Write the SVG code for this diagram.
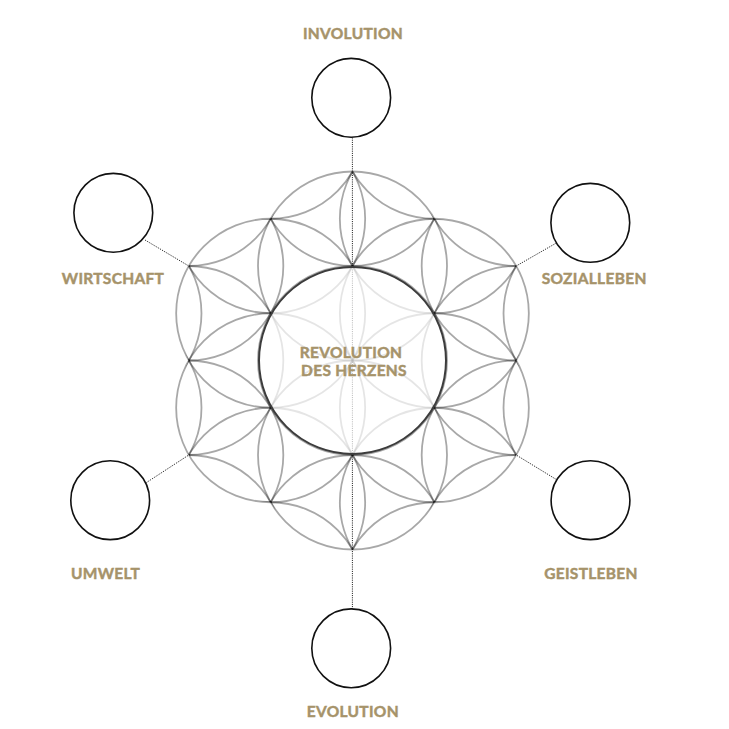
<svg xmlns="http://www.w3.org/2000/svg" width="729" height="729" viewBox="0 0 729 729">
  <defs>
    <style>
      .lat { fill: none; stroke: #000; stroke-opacity: 0.34; stroke-width: 1.8; }
      .node { fill: #fff; stroke: #111; stroke-width: 1.6; }
      .dot { fill: none; stroke: #111; stroke-width: 1; stroke-dasharray: 1 1.2; }
      .lbl { font-family: Lato, "Open Sans", sans-serif; font-weight: 700; font-size: 15.5px; fill: #a6936a; stroke: #a6936a; stroke-width: 0.45px; text-anchor: middle; letter-spacing: 0.3px; }
    </style>
    <clipPath id="seed">
      <circle cx="352.5" cy="266" r="94.5"/>
      <circle cx="270.66" cy="313.25" r="94.5"/>
      <circle cx="270.66" cy="407.75" r="94.5"/>
      <circle cx="352.5" cy="455" r="94.5"/>
      <circle cx="434.34" cy="407.75" r="94.5"/>
      <circle cx="434.34" cy="313.25" r="94.5"/>
    </clipPath>
  </defs>
  <rect width="729" height="729" fill="#fff"/>

  <g id="flower">
    <g class="lat">
      <circle cx="352.5" cy="360.5" r="94.5"/>
      <circle cx="352.5" cy="266" r="94.5"/>
      <circle cx="270.66" cy="313.25" r="94.5"/>
      <circle cx="270.66" cy="407.75" r="94.5"/>
      <circle cx="352.5" cy="455" r="94.5"/>
      <circle cx="434.34" cy="407.75" r="94.5"/>
      <circle cx="434.34" cy="313.25" r="94.5"/>
    </g>
    <g class="lat" clip-path="url(#seed)">
      <circle cx="270.66" cy="218.75" r="94.5"/>
      <circle cx="188.82" cy="360.5" r="94.5"/>
      <circle cx="270.66" cy="502.25" r="94.5"/>
      <circle cx="434.34" cy="502.25" r="94.5"/>
      <circle cx="516.18" cy="360.5" r="94.5"/>
      <circle cx="434.34" cy="218.75" r="94.5"/>
      <circle cx="352.5" cy="171.5" r="94.5"/>
      <circle cx="188.82" cy="266" r="94.5"/>
      <circle cx="188.82" cy="455" r="94.5"/>
      <circle cx="352.5" cy="549.5" r="94.5"/>
      <circle cx="516.18" cy="455" r="94.5"/>
      <circle cx="516.18" cy="266" r="94.5"/>
      <circle cx="270.66" cy="124.25" r="94.5"/>
      <circle cx="188.82" cy="171.5" r="94.5"/>
      <circle cx="106.98" cy="313.25" r="94.5"/>
      <circle cx="106.98" cy="407.75" r="94.5"/>
      <circle cx="188.82" cy="549.5" r="94.5"/>
      <circle cx="270.66" cy="596.75" r="94.5"/>
      <circle cx="434.34" cy="596.75" r="94.5"/>
      <circle cx="516.18" cy="549.5" r="94.5"/>
      <circle cx="598.02" cy="407.75" r="94.5"/>
      <circle cx="598.02" cy="313.25" r="94.5"/>
      <circle cx="516.18" cy="171.5" r="94.5"/>
      <circle cx="434.34" cy="124.25" r="94.5"/>
    </g>
  </g>

  <g id="connectors" class="dot">
    <line x1="352.4" y1="137.5" x2="352.4" y2="608.8"/>
    <line x1="145" y1="240" x2="188.8" y2="266"/>
    <line x1="555.5" y1="243.5" x2="516.2" y2="266"/>
    <line x1="146.5" y1="482.5" x2="188.8" y2="455"/>
    <line x1="555.5" y1="479" x2="516.2" y2="455"/>
  </g>

  <g id="center">
    <circle cx="352.5" cy="360.5" r="93.5" fill="#fff" fill-opacity="0.7" stroke="#3c3c3c" stroke-width="2"/>
    <text class="lbl" x="351" y="358.3">REVOLUTION</text>
    <text class="lbl" x="354" y="376">DES HERZENS</text>
  </g>

  <g id="involution">
    <circle class="node" cx="351.2" cy="97.8" r="39.4"/>
    <text class="lbl" x="353" y="39">INVOLUTION</text>
  </g>
  <g id="wirtschaft">
    <circle class="node" cx="113.3" cy="212.8" r="39.4"/>
    <text class="lbl" x="113" y="284">WIRTSCHAFT</text>
  </g>
  <g id="sozialleben">
    <circle class="node" cx="590.3" cy="222.8" r="39.4"/>
    <text class="lbl" x="594.2" y="284">SOZIALLEBEN</text>
  </g>
  <g id="umwelt">
    <circle class="node" cx="110.2" cy="500.2" r="39.4"/>
    <text class="lbl" x="105.5" y="579.3">UMWELT</text>
  </g>
  <g id="geistleben">
    <circle class="node" cx="590.5" cy="500.2" r="39.4"/>
    <text class="lbl" x="591" y="579">GEISTLEBEN</text>
  </g>
  <g id="evolution">
    <circle class="node" cx="351.2" cy="648.3" r="39.4"/>
    <text class="lbl" x="352.8" y="716.7">EVOLUTION</text>
  </g>
</svg>
